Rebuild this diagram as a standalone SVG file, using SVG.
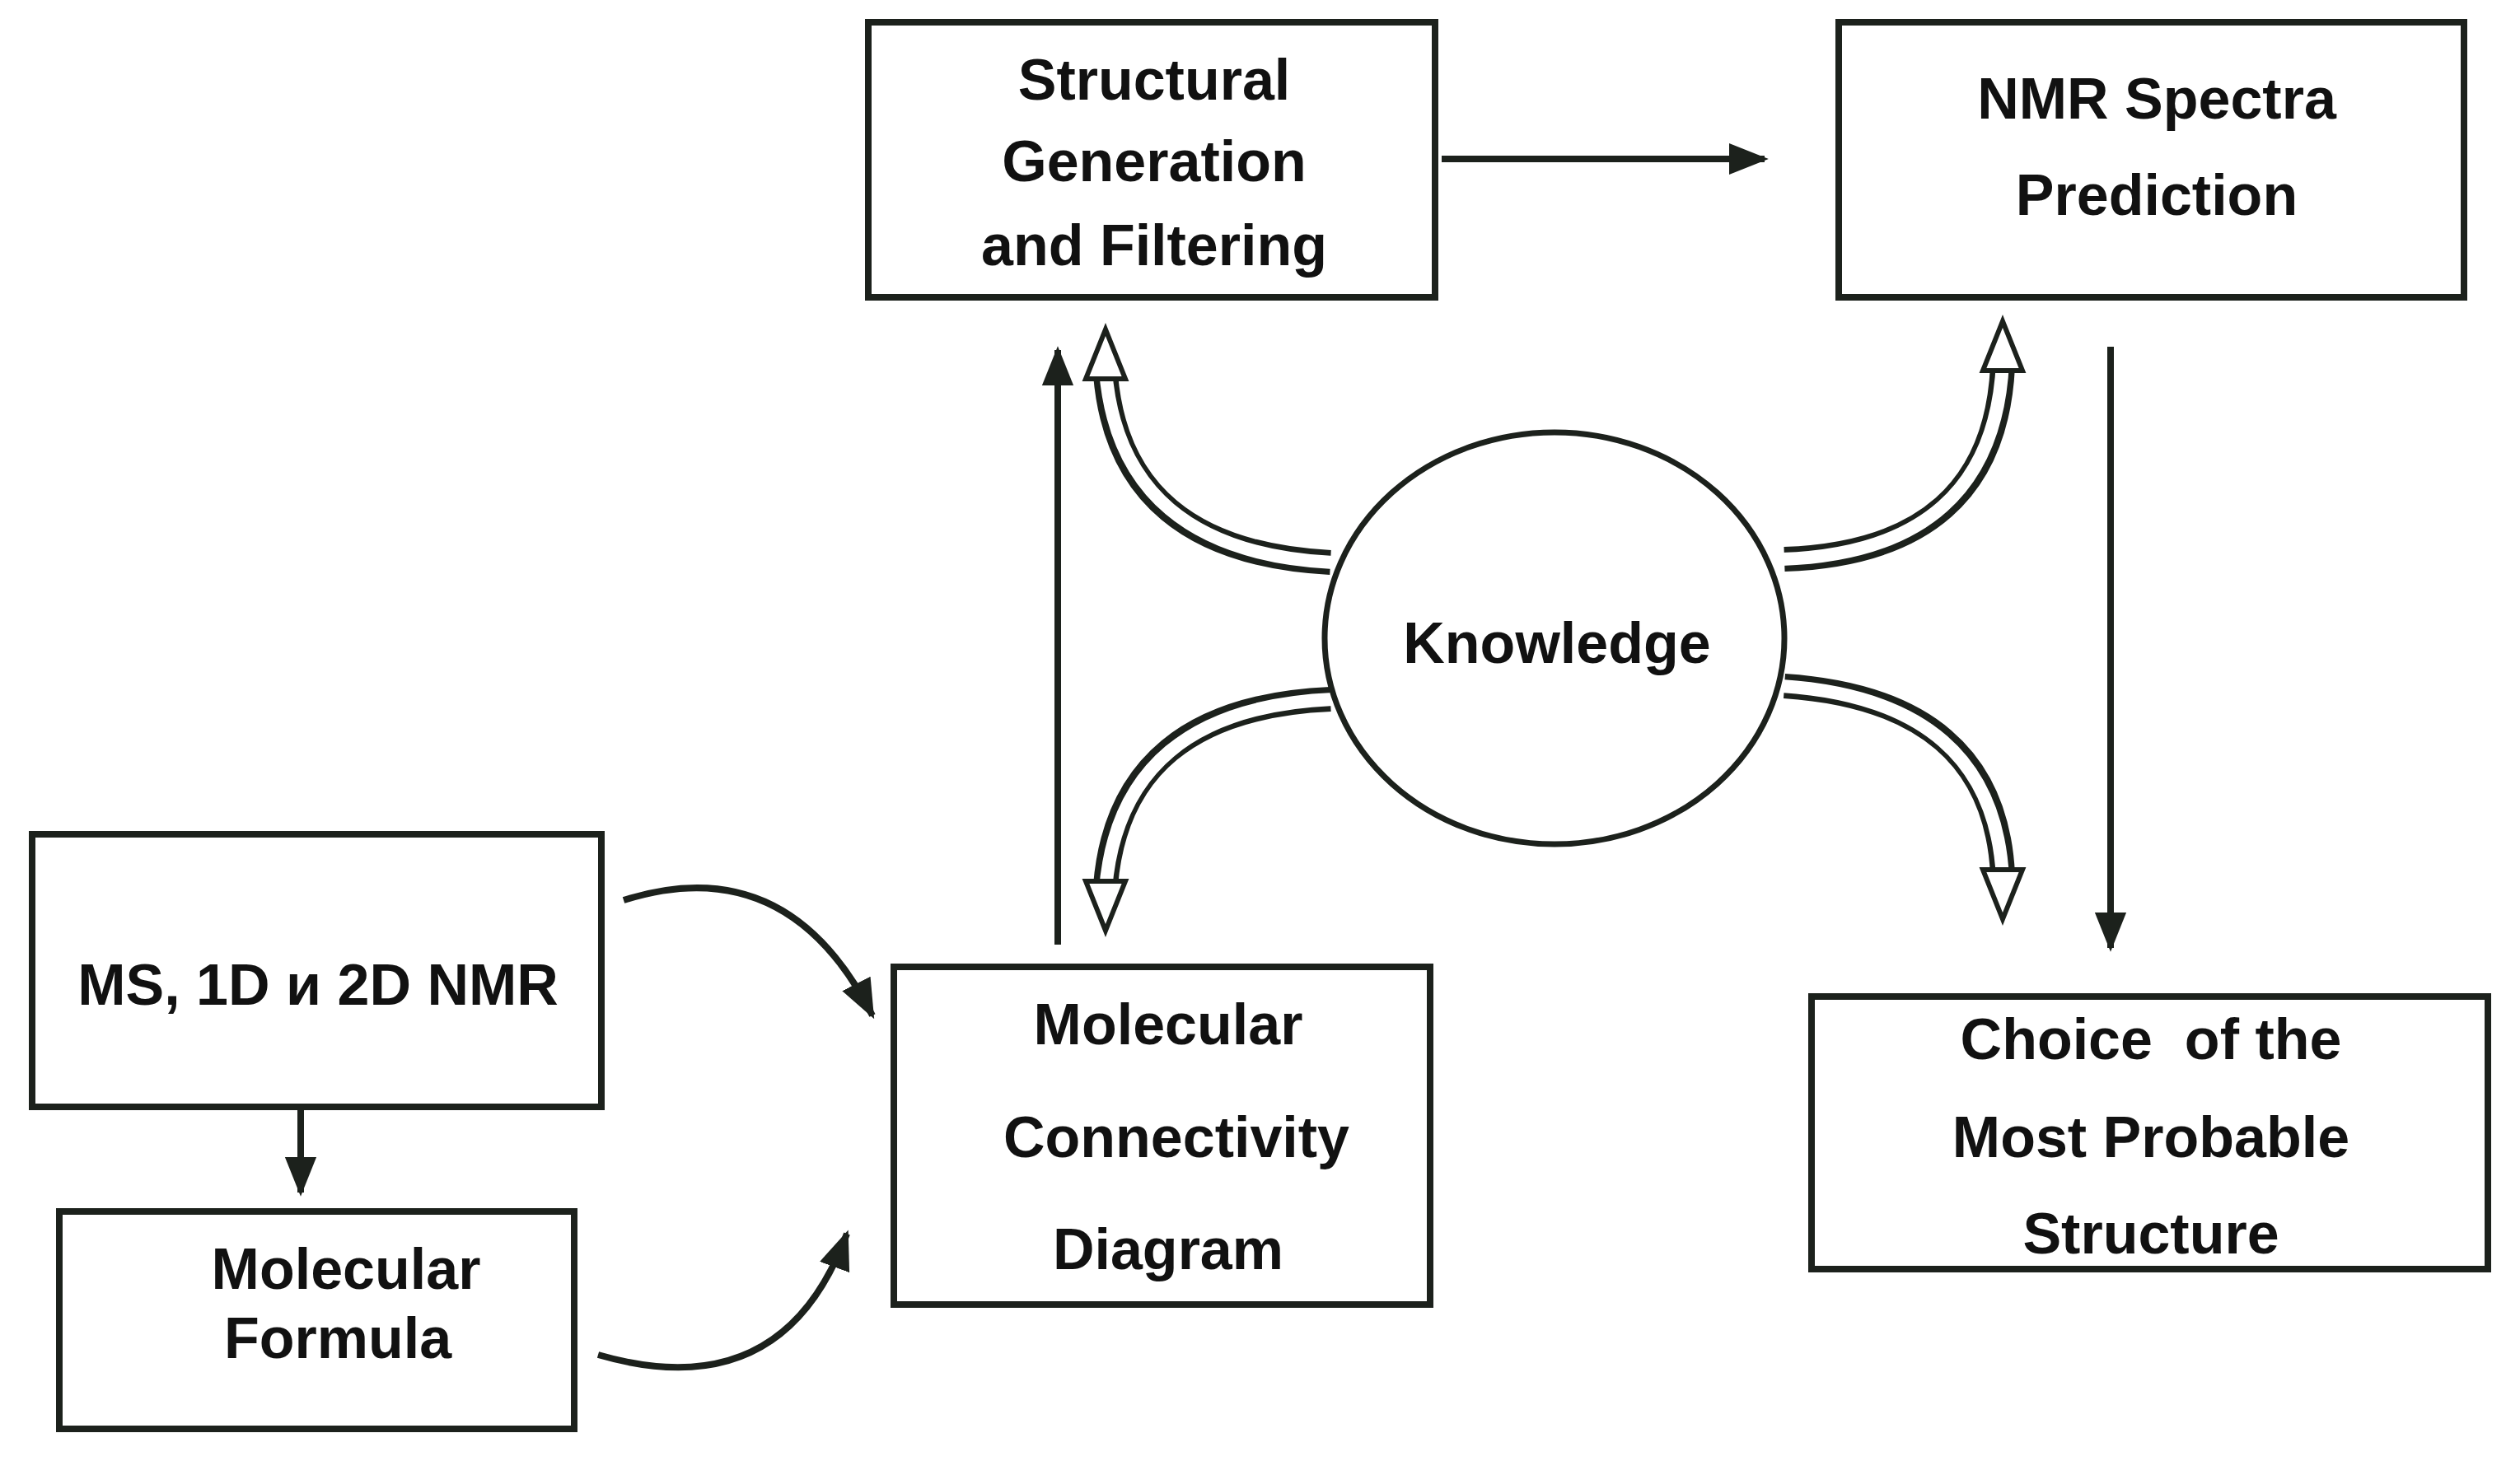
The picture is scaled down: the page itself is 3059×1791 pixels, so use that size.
<svg xmlns="http://www.w3.org/2000/svg" width="3059" height="1791" viewBox="0 0 3059 1791">
<style>
.box{fill:#fff;stroke:#1c211c;stroke-width:8}
.t{font-family:"Liberation Sans",Arial,sans-serif;font-weight:bold;font-size:70px;fill:#111;text-anchor:middle}
.ln{fill:none;stroke:#1c211c;stroke-width:8}
.ho{fill:none;stroke:#1c211c;stroke-width:30}
.hi{fill:none;stroke:#fff;stroke-width:16}
.hd{fill:#fff;stroke:#1c211c;stroke-width:6;stroke-linejoin:miter}
</style>
<defs>
<marker id="a" viewBox="0 0 10 10" refX="9" refY="5" markerWidth="6" markerHeight="6" orient="auto" markerUnits="strokeWidth"><path d="M0,1 L10,5 L0,9 z" fill="#1c211c"/></marker>
</defs>
<rect width="3059" height="1791" fill="#fff"/>
<g id="connectors">
<line class="ln" x1="1750" y1="193" x2="2142" y2="193" marker-end="url(#a)"/>
<line class="ln" x1="1284" y1="1147" x2="1284" y2="425" marker-end="url(#a)"/>
<line class="ln" x1="2562" y1="421" x2="2562" y2="1151" marker-end="url(#a)"/>
<line class="ln" x1="365" y1="1344" x2="365" y2="1448" marker-end="url(#a)"/>
<path class="ln" d="M757,1093 Q956,1030 1059,1233" marker-end="url(#a)"/>
<path class="ln" d="M726,1645 Q950,1710 1028,1498" marker-end="url(#a)"/>
<g id="hollow">
<path class="ho" d="M1615,683 Q1360,670 1342,455"/><path class="hi" d="M1618,683 Q1360,670 1342,450"/>
<polygon class="hd" points="1342,400 1366,460 1318,460"/>
<path class="ho" d="M2166,679 Q2420,670 2431,445"/><path class="hi" d="M2163,679 Q2420,670 2431,440"/>
<polygon class="hd" points="2431,390 2455,450 2407,450"/>
<path class="ho" d="M1615,849 Q1360,860 1342,1075"/><path class="hi" d="M1618,849 Q1360,860 1342,1080"/>
<polygon class="hd" points="1342,1130 1366,1070 1318,1070"/>
<path class="ho" d="M2166,833 Q2420,850 2431,1061"/><path class="hi" d="M2163,833 Q2420,850 2431,1066"/>
<polygon class="hd" points="2431,1116 2455,1056 2407,1056"/>
</g>
</g>
<g id="struct"><rect class="box" x="1054" y="27" width="688" height="334"/>
<text class="t" x="1401" y="121">Structural</text><text class="t" x="1401" y="220">Generation</text><text class="t" x="1401" y="322">and Filtering</text></g>
<g id="nmr"><rect class="box" x="2232" y="27" width="759" height="334"/>
<text class="t" x="2618" y="144">NMR Spectra</text><text class="t" x="2618" y="261">Prediction</text></g>
<g id="ms"><rect class="box" x="39" y="1013" width="691" height="331"/>
<text class="t" x="386" y="1220">MS, 1D и 2D NMR</text></g>
<g id="formula"><rect class="box" x="72" y="1471" width="625" height="264"/>
<text class="t" x="420" y="1565">Molecular</text><text class="t" x="410" y="1649">Formula</text></g>
<g id="connectivity"><rect class="box" x="1085" y="1174" width="651" height="410"/>
<text class="t" x="1418" y="1268">Molecular</text><text class="t" x="1428" y="1405">Connectivity</text><text class="t" x="1418" y="1541">Diagram</text></g>
<g id="choice"><rect class="box" x="2199" y="1210" width="821" height="331"/>
<text class="t" x="2611" y="1286" xml:space="preserve">Choice  of the</text><text class="t" x="2611" y="1405">Most Probable</text><text class="t" x="2611" y="1522">Structure</text></g>
<g id="knowledge"><ellipse cx="1887" cy="775" rx="279" ry="250" fill="#fff" stroke="#1c211c" stroke-width="7"/>
<text class="t" x="1890" y="805" font-size="64">Knowledge</text></g>
</svg>
